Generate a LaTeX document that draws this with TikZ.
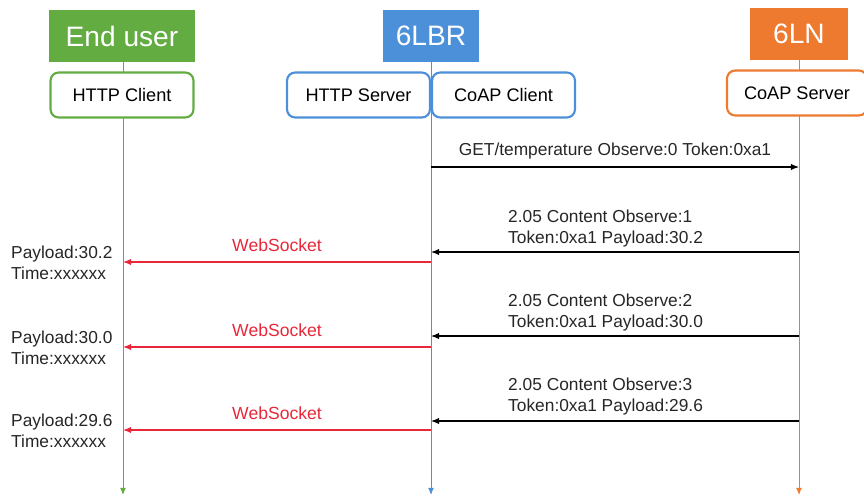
\documentclass[tikz,border=0pt]{standalone}
\usepackage{fontspec}
\setmainfont{Liberation Sans}
\usetikzlibrary{arrows.meta,positioning}
\definecolor{usergreen}{HTML}{62AC42}
\definecolor{lbrblue}{HTML}{4D90DA}
\definecolor{lnorange}{HTML}{EE7A30}
\definecolor{wsred}{HTML}{E8283A}
\definecolor{msgtext}{HTML}{262626}

\begin{document}
\begin{tikzpicture}[x=0.03cm,y=-0.03cm,>={Latex[length=7pt,width=5.5pt]},
    header/.style={rectangle,minimum height=1.56cm,text=white,
                   font=\fontsize{24}{28}\selectfont},
    role/.style={rectangle,rounded corners=7pt,line width=1.8pt,fill=white,
                 minimum width=4.29cm,minimum height=1.35cm,
                 font=\fontsize{15.5}{18}\selectfont},
    lifeline/.style={line width=0.8pt,-{Latex[length=6pt,width=5pt]}},
    msg/.style={->,line width=1pt,black},
    ws/.style={->,line width=1pt,wsred},
    msglabel/.style={text=msgtext,align=left,inner sep=0pt,
                     font=\fontsize{14.8}{18}\selectfont},
    wslabel/.style={text=wsred,inner sep=0pt,font=\fontsize{15}{18}\selectfont}]
\useasboundingbox (0,0) rectangle (864,499);

% participants
\node[header,fill=usergreen,minimum width=4.38cm] (enduser) at (122,36) {End user};
\node[header,fill=lbrblue,minimum width=2.9cm] (lbr) at (431,36) {6LBR};
\node[header,fill=lnorange,minimum width=2.94cm] (ln) at (799,34) {6LN};

% lifelines
\coordinate (userend) at (123,495);
\coordinate (lbrend) at (431,495);
\coordinate (lnend) at (799,495);
\draw[lifeline,usergreen] (enduser.south -| userend) -- (userend);
\draw[lifeline,lbrblue] (lbr.south -| lbrend) -- (lbrend);
\draw[lifeline,lnorange] (ln.south -| lnend) -- (lnend);

\node[role,draw=usergreen] (httpclient) at (122,95) {HTTP Client};
\node[role,draw=lbrblue] (httpserver) at (358.5,95) {HTTP Server};
\node[role,draw=lbrblue] (coapclient) at (503.5,95) {CoAP Client};
\node[role,draw=lnorange,minimum width=4.2cm] (coapserver) at (797,93) {CoAP Server};

% observe request
\coordinate (get-s) at (431,167);
\coordinate (get-e) at (799,167);
\draw[msg] (get-s) -- node[above=6pt,msglabel] {GET/temperature Observe:0 Token:0xa1} (get-e);

% notifications
\coordinate (n1-s) at (799,252);
\coordinate (n1-e) at (431,252);
\draw[msg] (n1-s) -- (n1-e);
\node[msglabel,anchor=west] (n1) at (508,228.5)
  {2.05 Content Observe:1\\Token:0xa1 Payload:30.2};

\coordinate (n2-s) at (799,336);
\coordinate (n2-e) at (431,336);
\draw[msg] (n2-s) -- (n2-e);
\node[msglabel,anchor=west] (n2) at (508,312.5)
  {2.05 Content Observe:2\\Token:0xa1 Payload:30.0};

\coordinate (n3-s) at (799,421);
\coordinate (n3-e) at (431,421);
\draw[msg] (n3-s) -- (n3-e);
\node[msglabel,anchor=west] (n3) at (508,396.5)
  {2.05 Content Observe:3\\Token:0xa1 Payload:29.6};

% websocket pushes
\coordinate (w1-s) at (431,262);
\coordinate (w1-e) at (123,262);
\draw[ws] (w1-s) -- node[above=8pt,wslabel] {WebSocket} (w1-e);
\node[msglabel,anchor=west] (p1) at (11,262.5) {Payload:30.2\\Time:xxxxxx};

\coordinate (w2-s) at (431,347);
\coordinate (w2-e) at (123,347);
\draw[ws] (w2-s) -- node[above=8pt,wslabel] {WebSocket} (w2-e);
\node[msglabel,anchor=west] (p2) at (11,348) {Payload:30.0\\Time:xxxxxx};

\coordinate (w3-s) at (431,430);
\coordinate (w3-e) at (123,430);
\draw[ws] (w3-s) -- node[above=8pt,wslabel] {WebSocket} (w3-e);
\node[msglabel,anchor=west] (p3) at (11,431) {Payload:29.6\\Time:xxxxxx};
\end{tikzpicture}
\end{document}
